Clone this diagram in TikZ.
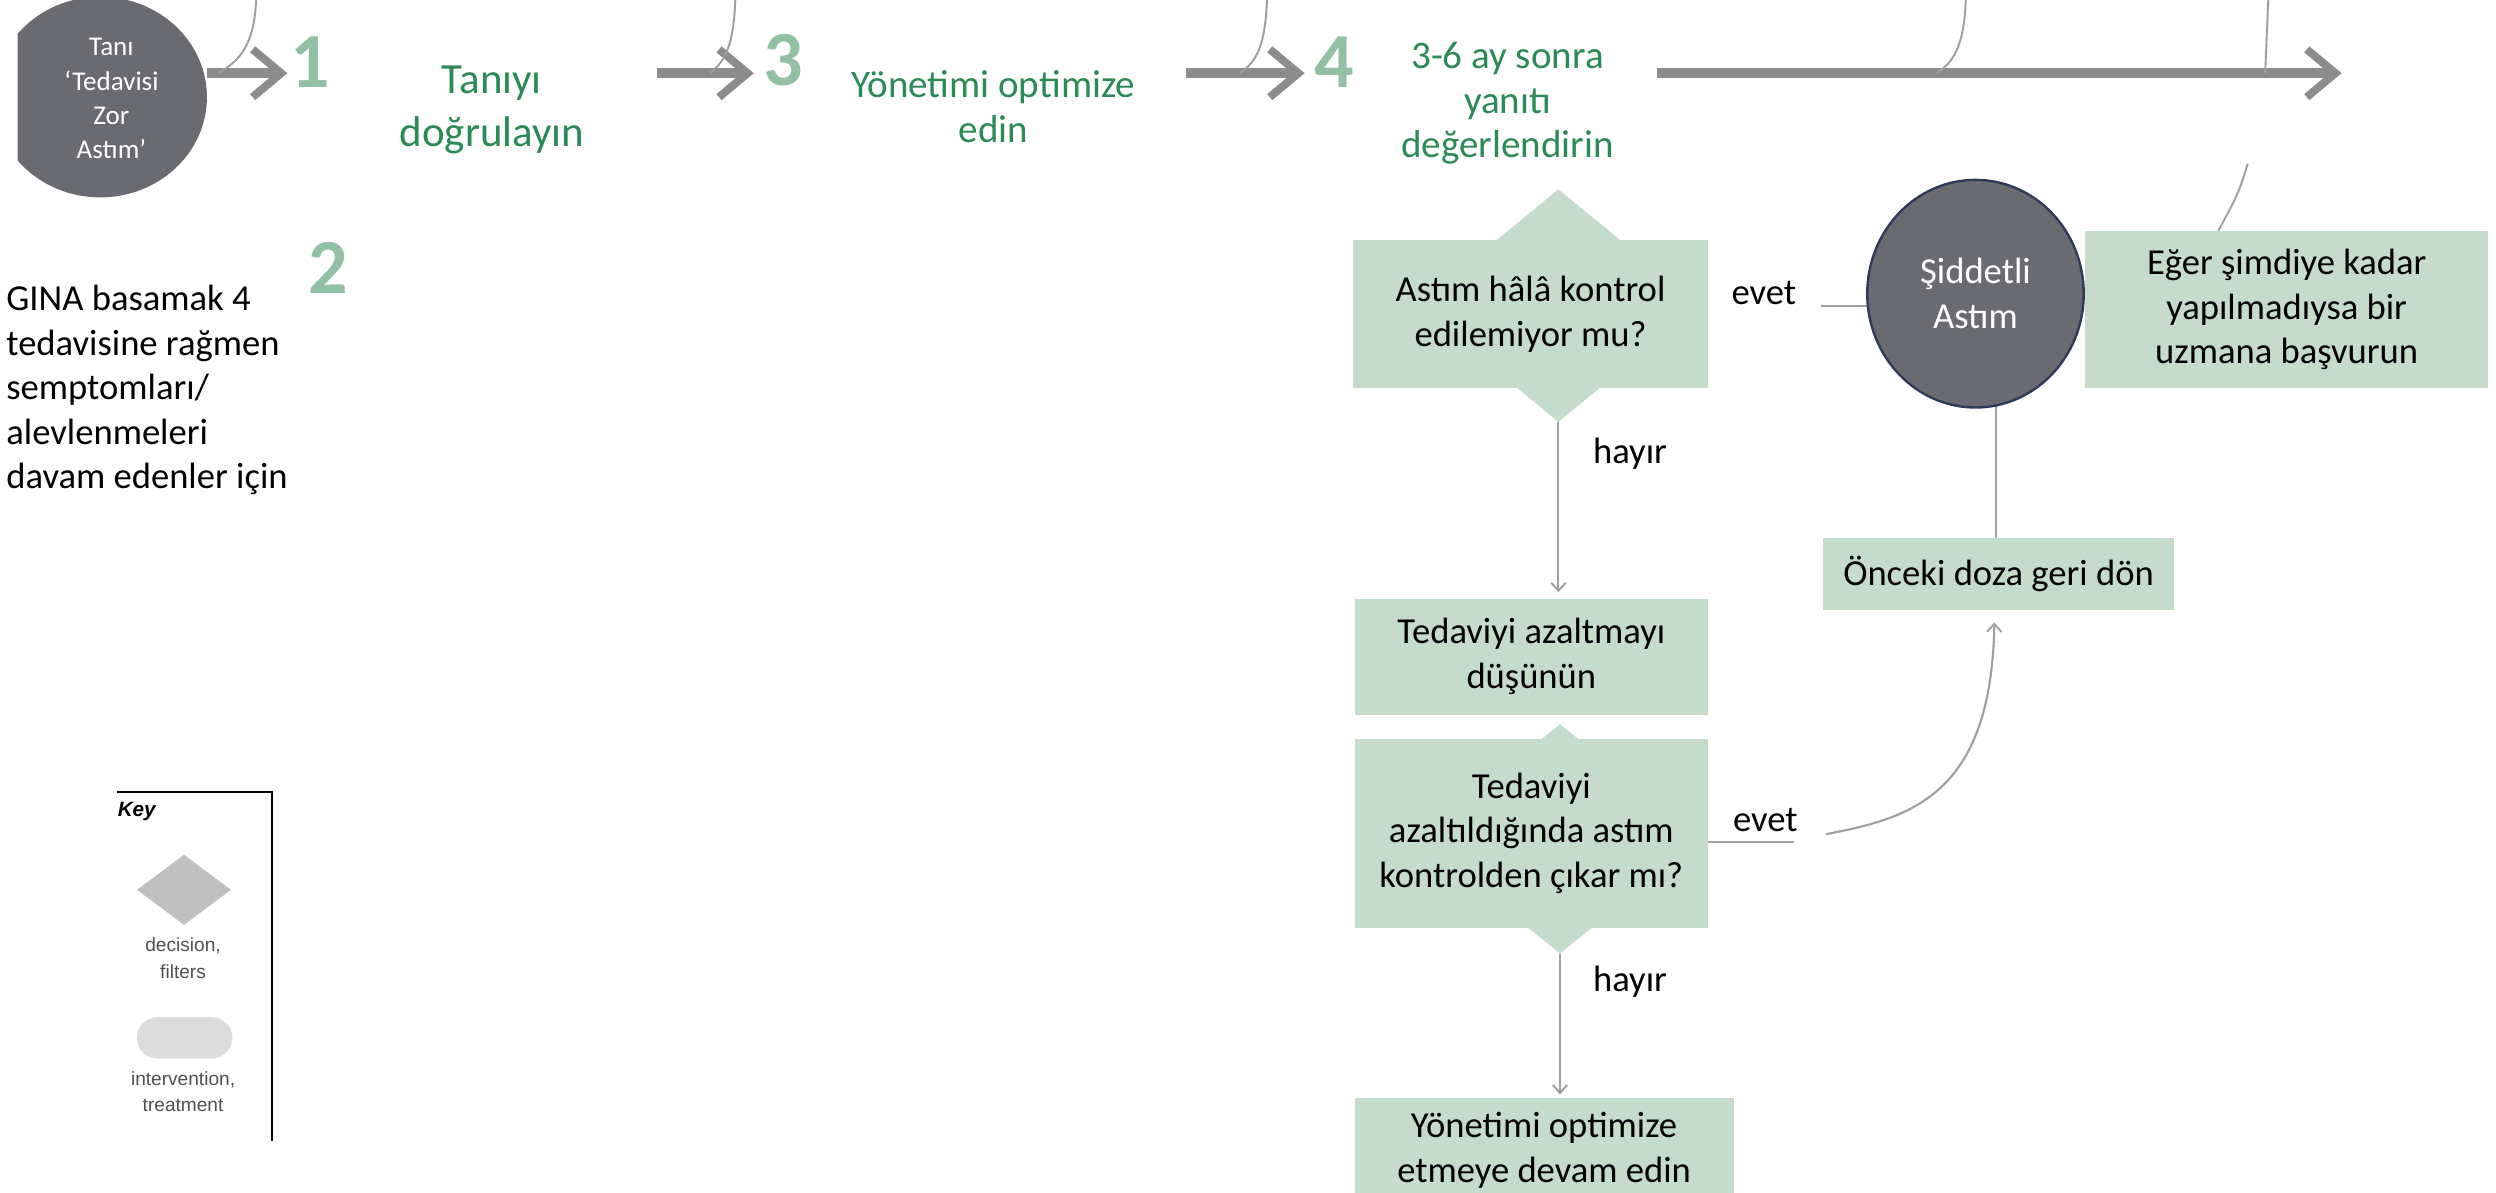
\documentclass[tikz,border=0pt]{standalone}
\usepackage{fontspec}
\setmainfont{Carlito}
\newfontfamily\keyfamily{Liberation Sans}
\usetikzlibrary{shapes.geometric,arrows.meta,backgrounds,calc}

\definecolor{boxgreen}{RGB}{198,220,203}
\definecolor{headgreen}{RGB}{44,138,86}
\definecolor{numgreen}{RGB}{145,192,162}
\definecolor{arrowgray}{RGB}{140,140,140}
\definecolor{thingray}{RGB}{158,158,158}
\definecolor{darkfill}{RGB}{106,107,112}
\definecolor{navyline}{RGB}{47,58,90}
\definecolor{keygray}{RGB}{192,192,192}
\definecolor{keypill}{RGB}{220,220,220}
\definecolor{keytext}{RGB}{80,80,80}

\newcommand\bxfont{\fontsize{23}{28}\selectfont}
\newcommand\hdfont{\fontsize{24.5}{28}\selectfont}
\newcommand\numfont{\fontsize{49}{49}\selectfont\bfseries}
\newcommand\kyfont{\keyfamily\fontsize{12}{16.5}\selectfont}

\begin{document}
\begin{tikzpicture}[x=1pt,y=-1pt,
  every node/.style={inner sep=0pt,outer sep=0pt},
  box/.style={rectangle,fill=boxgreen,align=center,font=\bxfont,text=black},
  decision/.style={diamond,fill=boxgreen,minimum width=178,minimum height=146},
  heading/.style={align=center,font=\hdfont,text=headgreen},
  stepnum/.style={font=\numfont,text=numgreen},
  darkround/.style={ellipse,fill=darkfill,text=white,align=center},
  plain/.style={font=\bxfont,text=black},
  mainflow/.style={draw=arrowgray,line width=6.5pt,
    -{Straight Barb[length=18pt,width=30pt,line width=5pt]}},
  feed/.style={draw=thingray,line width=1.2pt},
  link/.style={draw=thingray,line width=1.3pt,
    -{Straight Barb[length=5pt,width=9pt,line width=1.2pt]}}]

\begin{scope}[on background layer]
  \fill[white] (0,0) rectangle (1568,749);
\end{scope}
\useasboundingbox (0,0) rectangle (1568,749);

% ---- entry ellipse, flattened on its left side
\begin{scope}
  \clip (11,-20) rectangle (200,160);
  \node[darkround,minimum width=134,minimum height=126] (start) at (63,61) {};
\end{scope}
\node[text=white,align=center,font=\fontsize{17}{21.5}\selectfont] (starttxt) at (70,62)
  {Tanı\\‘Tedavisi\\Zor\\Astım’};

% ---- step numbers and headings along the top
\node[stepnum] (n1) at (195,39) {1};
\node[stepnum] (n2) at (206,168) {2};
\node[stepnum] (n3) at (492,38) {3};
\node[stepnum] (n4) at (838,39) {4};

\node[heading,font=\fontsize{27}{33}\selectfont] (h1) at (309,69) {Tanıyı\\doğrulayın};
\node[heading] (h3) at (624,67) {Yönetimi optimize\\edin};
\node[heading] (h4) at (947,65) {3-6 ay sonra\\yanıtı\\değerlendirin};

\node[plain,align=left,anchor=west] (gina) at (4,245)
  {GINA basamak 4\\tedavisine rağmen\\semptomları/\\alevlenmeleri\\davam edenler için};

% ---- main arrows
\coordinate (a3s) at (413,46);
\coordinate (a4s) at (745,46);
\coordinate (a5s) at (1041,46);
\coordinate (a5e) at (1471,46);
\draw[mainflow,shorten >=2pt] (start.east |- a3s) -- (n1.west |- a3s);
\draw[mainflow,shorten >=6pt] (a3s) -- (n3.west |- a3s);
\draw[mainflow,shorten >=6pt] (a4s) -- (n4.west |- a4s);
\draw[mainflow] (a5s) -- (a5e);

% ---- feeds from above joining the main arrows
\coordinate (f1) at (161,-2);  \coordinate (j1) at (137,46);
\coordinate (f3) at (462,-2);  \coordinate (j3) at (446,46);
\coordinate (f4) at (796,-2);  \coordinate (j4) at (779,46);
\coordinate (f5) at (1235,-2); \coordinate (j5) at (1217,46);
\coordinate (f6) at (1425,-2); \coordinate (j6) at (1423,46);
\draw[feed] (f1) .. controls (160,28) and (151,38) .. (j1);
\draw[feed] (f3) .. controls (461,28) and (456,38) .. (j3);
\draw[feed] (f4) .. controls (795,28) and (790,38) .. (j4);
\draw[feed] (f5) .. controls (1234,28) and (1228,38) .. (j5);
\draw[feed] (f6) -- (j6);

% ---- decision 1
\node[decision] (q1d) at (979,192) {};
\node[box,minimum width=223,minimum height=93] (q1) at (961.5,197.5)
  {Astım hâlâ kontrol\\edilemiyor mu?};

% ---- severe asthma and referral
\node[darkround,draw=navyline,line width=1.5pt,minimum width=136,minimum height=143,
  font=\bxfont] (sev) at (1241,184.5) {Şiddetli\\Astım};
\node[box,minimum width=253,minimum height=99] (ref) at (1436.5,194.5)
  {Eğer şimdiye kadar\\yapılmadıysa bir\\uzmana başvurun};
\node[box,minimum width=221,minimum height=45] (prev) at (1255.5,360.5)
  {Önceki doza geri dön};

% ---- step-down branch
\node[box,minimum width=222,minimum height=73] (down) at (962,412.5)
  {Tedaviyi azaltmayı\\düşünün};
\node[decision,minimum height=144] (q2d) at (980,527) {};
\node[box,minimum width=222,minimum height=119] (q2) at (962,523.5)
  {Tedaviyi\\azaltıldığında astım\\kontrolden çıkar mı?};
\node[box,minimum width=238,minimum height=66] (cont) at (970,722.5)
  {Yönetimi optimize\\etmeye devam edin};

% ---- branch labels
\node[plain] (yes1) at (1108,184) {evet};
\node[plain] (no1) at (1024,285) {hayır};
\node[plain] (yes2) at (1109,515) {evet};
\node[plain] (no2) at (1024,617) {hayır};

% ---- connectors
\coordinate (e1s) at (1144,192);
\coordinate (e2a) at (1127,529);
\coordinate (e2b) at (1147,524);
\coordinate (t1) at (1412,103);
\begin{scope}[on background layer]
  \draw[feed] (e1s) -- (e1s -| sev.center);
  \draw[feed] (prev.north -| 1254,0) -- (sev.center -| 1254,0);
  \draw[feed] (q2.east |- e2a) -- (e2a);
  \draw[feed] (t1) .. controls (1406,122) .. ($(ref.north west)!0.33!(ref.north east)$);
\end{scope}
\draw[link,shorten >=4pt] (q1d.south) -- (q1d.south |- down.north);
\draw[link,shorten >=2pt] (q2d.south) -- (q2d.south |- cont.north);
\draw[link,shorten >=8pt] (e2b) .. controls (1200,514) and (1251,500) .. (prev.south -| 1253,0);

% ---- key
\coordinate (kA) at (73.5,497.5);
\coordinate (kB) at (171,497.5);
\coordinate (kC) at (171,717);
\draw[line width=1.5pt,black] (kA) -- (kB) -- (kC);
\node[anchor=west,font=\keyfamily\fontsize{13}{15}\selectfont\bfseries\itshape] (keyttl) at (74,510) {Key};
\node[diamond,fill=keygray,minimum width=59,minimum height=44] (kdia) at (115.6,559) {};
\node[align=center,font=\kyfont,text=keytext] (kdtxt) at (115,602) {decision,\\filters};
\node[rectangle,rounded corners=13pt,fill=keypill,minimum width=60,minimum height=26] (kpill) at (116,652) {};
\node[align=center,font=\kyfont,text=keytext] (kptxt) at (115,686) {intervention,\\treatment};

\end{tikzpicture}
\end{document}
